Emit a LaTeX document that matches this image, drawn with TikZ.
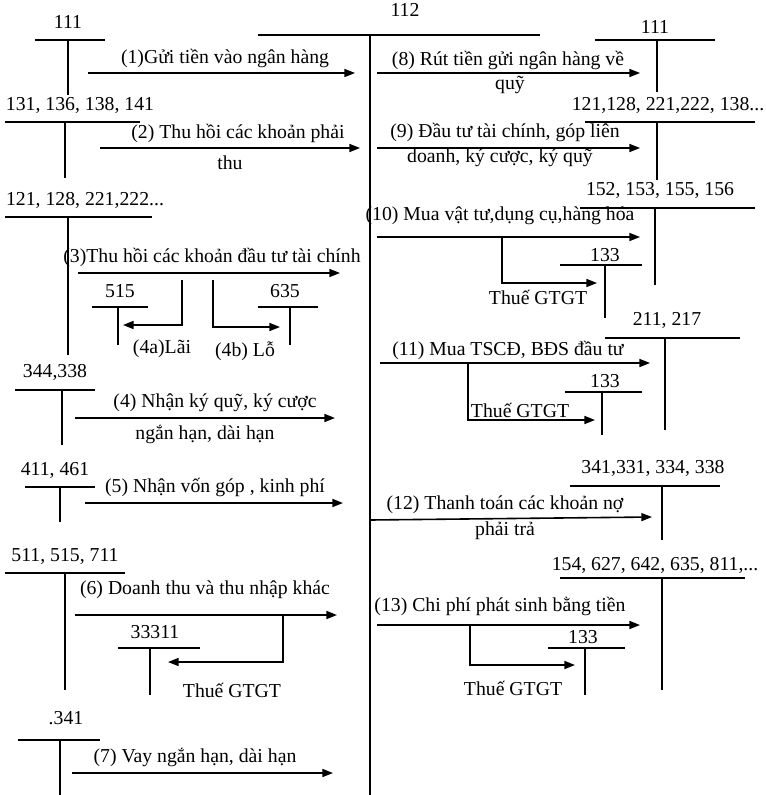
\documentclass[tikz,border=0pt]{standalone}
\usepackage{fontspec}
\setmainfont{Liberation Serif}
\usetikzlibrary{arrows.meta}
\begin{document}
\begin{tikzpicture}[x=0.75pt,y=-0.75pt,
  ln/.style={line width=0.9pt},
  arr/.style={line width=1.2pt,-{Triangle[length=8pt,width=6pt]}},
  lb/.style={font=\fontsize{14.8}{16}\selectfont,inner sep=0pt}]
\useasboundingbox (0,0) rectangle (766,795);
% central 112
\node[lb] (t112) at (405,10) {112};
\draw[ln] (258,35) -- (540,35);
\draw[ln] (370,35) coordinate (c0) -- (370,795) coordinate (c1);
% ---- left ----
\node[lb] (a1) at (68,22) {111};
\draw[ln] (35,40) -- (105,40); \draw[ln] (68,40) -- (68,95);
\draw[arr] (88,73) coordinate (s1) -- (355,73) coordinate (e1);
\node[lb] (l1) at (225,58) {(1)Gửi tiền vào ngân hàng};

\node[lb] (a2) at (80,105) {131, 136, 138, 141};
\draw[ln] (5,122) -- (140,122); \draw[ln] (65,122) -- (65,178);
\draw[arr] (100,148) coordinate (s2) -- (360,148) coordinate (e2);
\node[lb] (l2) at (238,133) {(2) Thu hồi các khoản phải};
\node[lb] (l2b) at (230,163) {thu};

\node[lb] (a3) at (85,200) {121, 128, 221,222...};
\draw[ln] (5,217) -- (152,217); \draw[ln] (68,217) -- (68,355);
\draw[arr] (78,273) coordinate (s3) -- (340,273) coordinate (e3);
\node[lb] (l3) at (212,257) {(3)Thu hồi các khoản đầu tư tài chính};
\node[lb] (a515) at (120,291) {515};
\draw[ln] (92,307) -- (148,307); \draw[ln] (118,307) -- (118,345);
\draw[arr] (182,280) coordinate (s4a) -- (182,325) -- (123,325) coordinate (e4a);
\node[lb] (l4a) at (162,349) {(4a)Lãi};
\node[lb] (a635) at (285,291) {635};
\draw[ln] (258,307) -- (318,307); \draw[ln] (290,307) -- (290,345);
\draw[arr] (213,280) coordinate (s4b) -- (213,327) -- (280,327) coordinate (e4b);
\node[lb] (l4b) at (245,351) {(4b) Lỗ};

\node[lb] (a4) at (55,372) {344,338};
\draw[ln] (15,390) -- (95,390); \draw[ln] (62,390) -- (62,445);
\draw[arr] (75,418) coordinate (s5) -- (335,418) coordinate (e5);
\node[lb] (l4) at (215,403) {(4) Nhận ký quỹ, ký cược};
\node[lb] (l4c) at (205,434) {ngắn hạn, dài hạn};

\node[lb] (a5) at (55,470) {411, 461};
\draw[ln] (25,487) -- (95,487); \draw[ln] (60,487) -- (60,522);
\draw[arr] (85,503) coordinate (s6) -- (343,503) coordinate (e6);
\node[lb] (l5) at (215,487) {(5) Nhận vốn góp , kinh phí};

\node[lb] (a6) at (65,556) {511, 515, 711};
\draw[ln] (5,573) -- (125,573); \draw[ln] (65,573) -- (65,690);
\draw[arr] (75,615) coordinate (s7) -- (337,615) coordinate (e7);
\node[lb] (l6) at (205,590) {(6) Doanh thu và thu nhập khác};
\node[lb] (a333) at (155,632) {33311};
\draw[ln] (118,648) -- (200,648); \draw[ln] (150,648) -- (150,695);
\draw[arr] (283,615) coordinate (s8) -- (283,662) -- (168,662) coordinate (e8);
\node[lb] (l6t) at (232,690) {Thuế GTGT};

\node[lb] (a7) at (66,718) {.341};
\draw[ln] (18,740) -- (100,740); \draw[ln] (60,740) -- (60,795);
\draw[arr] (72,773) coordinate (s9) -- (333,773) coordinate (e9);
\node[lb] (l7) at (195,757) {(7) Vay ngắn hạn, dài hạn};
% ---- right ----
\node[lb] (b8) at (655,27) {111};
\draw[ln] (595,40) -- (715,40); \draw[ln] (657,40) -- (657,92);
\draw[arr] (377,73) coordinate (r1) -- (640,73) coordinate (q1);
\node[lb] (l8) at (508,60) {(8) Rút tiền gửi ngân hàng về};
\node[lb] (l8b) at (510,85) {quỹ};

\node[lb] (b9) at (668,105) {121,128, 221,222, 138...};
\draw[ln] (585,122) -- (755,122); \draw[ln] (657,122) -- (657,180);
\draw[arr] (377,148) coordinate (r2) -- (640,148) coordinate (q2);
\node[lb] (l9) at (505,132) {(9) Đầu tư tài chính, góp liên};
\node[lb] (l9b) at (500,158) {doanh, ký cược, ký quỹ};

\node[lb] (b10) at (660,190) {152, 153, 155, 156};
\draw[ln] (580,208) -- (755,208); \draw[ln] (655,208) -- (655,285);
\draw[arr] (377,237) coordinate (r3) -- (640,237) coordinate (q3);
\node[lb] (l10) at (500,216) {(10) Mua vật tư,dụng cụ,hàng hóa};
\node[lb] (b133a) at (605,255) {133};
\draw[ln] (560,265) -- (642,265); \draw[ln] (605,265) -- (605,318);
\draw[arr] (502,237) coordinate (r4) -- (502,283) -- (597,283) coordinate (q4);
\node[lb] (l10t) at (538,297) {Thuế GTGT};

\node[lb] (b11) at (667,320) {211, 217};
\draw[ln] (605,338) -- (740,338); \draw[ln] (665,338) -- (665,430);
\draw[arr] (380,363) coordinate (r5) -- (650,363) coordinate (q5);
\node[lb] (l11) at (508,350) {(11) Mua TSCĐ, BĐS đầu tư};
\node[lb] (b133b) at (605,381) {133};
\draw[ln] (565,392) -- (642,392); \draw[ln] (602,392) -- (602,435);
\draw[arr] (468,363) coordinate (r6) -- (468,420) -- (595,420) coordinate (q6);
\node[lb] (l11t) at (520,410) {Thuế GTGT};

\node[lb] (b12) at (653,468) {341,331, 334, 338};
\draw[ln] (570,486) -- (720,486); \draw[ln] (662,486) -- (662,540);
\draw[arr] (370,520) coordinate (r7) -- (652,517) coordinate (q7);
\node[lb] (l12) at (505,505) {(12) Thanh toán các khoản nợ};
\node[lb] (l12b) at (505,531) {phải trả};

\node[lb] (b13) at (655,565) {154, 627, 642, 635, 811,...};
\draw[ln] (560,578) -- (745,578); \draw[ln] (662,578) -- (662,690);
\draw[arr] (377,625) coordinate (r8) -- (640,625) coordinate (q8);
\node[lb] (l13) at (500,606) {(13) Chi phí phát sinh bằng tiền};
\node[lb] (b133c) at (583,637) {133};
\draw[ln] (548,648) -- (625,648); \draw[ln] (585,648) -- (585,695);
\draw[arr] (470,625) coordinate (r9) -- (470,665) -- (575,665) coordinate (q9);
\node[lb] (l13t) at (513,688) {Thuế GTGT};
\end{tikzpicture}
\end{document}
